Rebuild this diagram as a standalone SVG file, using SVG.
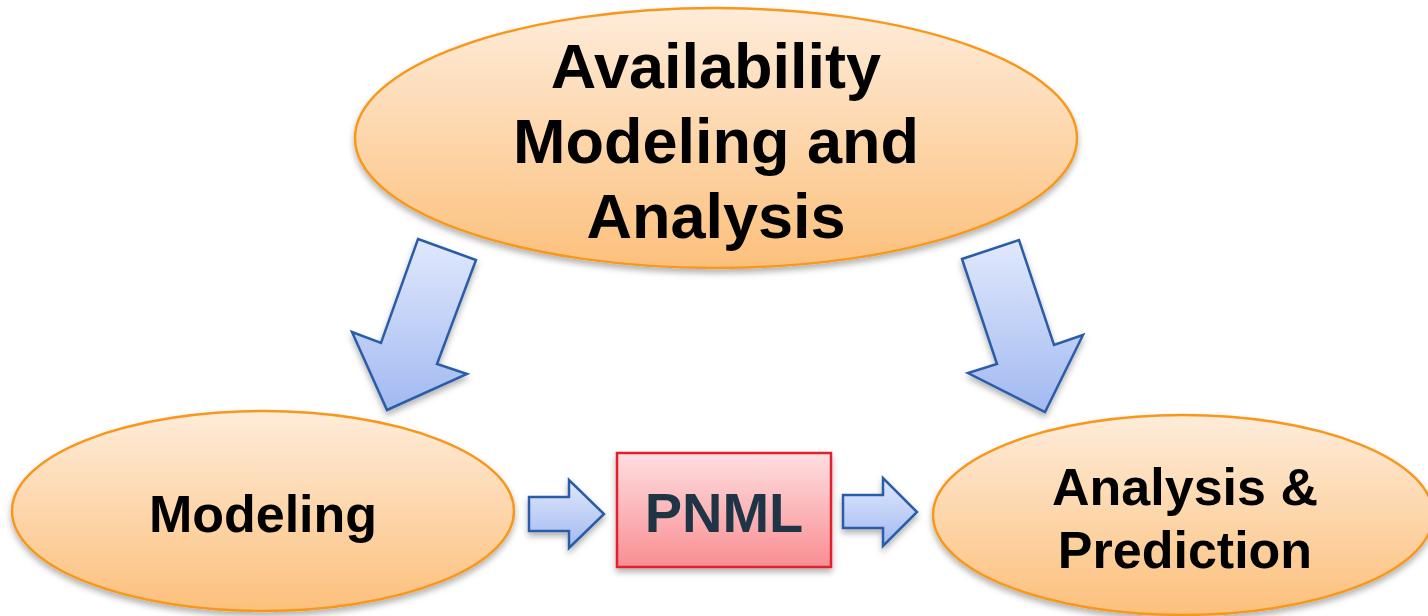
<svg xmlns="http://www.w3.org/2000/svg" width="1428" height="616" viewBox="0 0 1428 616">
  <defs>
    <linearGradient id="gOrange" x1="0" y1="0" x2="0" y2="1">
      <stop offset="0" stop-color="#feecda"/>
      <stop offset="1" stop-color="#fcc07c"/>
    </linearGradient>
    <linearGradient id="gBlue" x1="0" y1="0" x2="0" y2="1">
      <stop offset="0" stop-color="#e0e8fc"/>
      <stop offset="1" stop-color="#a2b9f1"/>
    </linearGradient>
    <linearGradient id="gRed" x1="0" y1="0" x2="0" y2="1">
      <stop offset="0" stop-color="#fedfe0"/>
      <stop offset="1" stop-color="#f98e93"/>
    </linearGradient>
    <filter id="shadow" x="-10%" y="-10%" width="120%" height="130%">
      <feDropShadow dx="0" dy="4" stdDeviation="3" flood-color="#000" flood-opacity="0.3"/>
    </filter>
  </defs>
  <style>
    .oval { fill: url(#gOrange); stroke: #f7981d; stroke-width: 2.5; filter: url(#shadow); }
    .arrow { fill: url(#gBlue); stroke: #2c5da8; stroke-width: 2.5; stroke-linejoin: miter; filter: url(#shadow); }
    .box { fill: url(#gRed); stroke: #e0202f; stroke-width: 2.5; filter: url(#shadow); }
    .label { font-family: "Liberation Sans", Arial, sans-serif; font-weight: bold; fill: #000; text-anchor: middle; }
  </style>

  <rect width="1428" height="616" fill="#ffffff"/>

  <!-- connectors: block arrows between the stages -->
  <g id="connectors">
    <polygon class="arrow" points="418,239 476,260 437,364 467,374 387,410 352,332 381,343"/>
    <polygon class="arrow" points="962,259 1019,240 1054,345 1083,335 1045,412 968,373 997,364"/>
    <polygon class="arrow" points="529,497 569,497 569,480 604,514 569,548 569,531 529,531"/>
    <polygon class="arrow" points="843,495 883,495 883,478 917,512 883,546 883,528 843,528"/>
  </g>

  <g id="availability">
    <ellipse class="oval" cx="716" cy="138" rx="361" ry="130"/>
    <text class="label" x="716" y="88" font-size="63">Availability</text>
    <text class="label" x="716" y="163" font-size="63">Modeling and</text>
    <text class="label" x="716" y="238" font-size="63">Analysis</text>
  </g>

  <g id="modeling">
    <ellipse class="oval" cx="263" cy="511" rx="251" ry="100"/>
    <text class="label" x="263" y="532" font-size="52">Modeling</text>
  </g>

  <g id="pnml">
    <rect class="box" x="617" y="453" width="214" height="114"/>
    <text class="label" x="724" y="532" font-size="56" fill="#1f3545" style="fill:#1f3545">PNML</text>
  </g>

  <g id="analysis-prediction">
    <ellipse class="oval" cx="1183" cy="515" rx="250" ry="100"/>
    <text class="label" x="1185" y="505" font-size="52">Analysis &amp;</text>
    <text class="label" x="1185" y="568" font-size="52">Prediction</text>
  </g>
</svg>
